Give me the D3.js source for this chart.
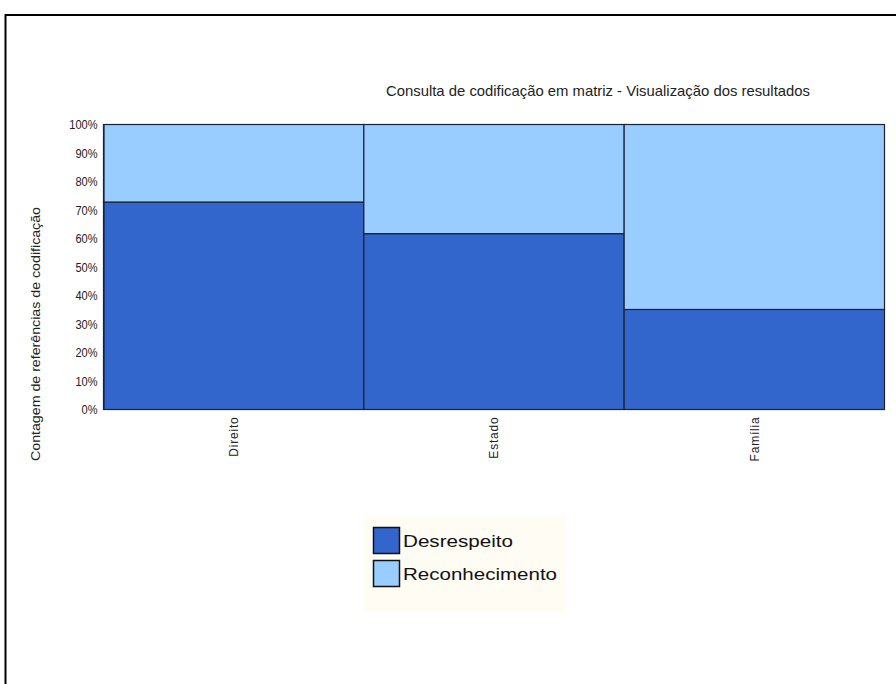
<!DOCTYPE html>
<html>
<head>
<meta charset="utf-8">
<script src="https://cdn.jsdelivr.net/npm/d3@7"></script>
<style>
  html, body { margin: 0; padding: 0; background: #fff; }
  svg { display: block; }
  text { font-family: "Liberation Sans", Arial, sans-serif; }
</style>
</head>
<body>
<svg id="chart" width="896" height="684"></svg>
<script>
const categories = ["Direito", "Estado", "Família"];
const seriesNames = ["Desrespeito", "Reconhecimento"];
const desrespeito = [72.8, 61.7, 35.1];
const reconhecimento = [27.2, 38.3, 64.9];
const yTicks = [0, 10, 20, 30, 40, 50, 60, 70, 80, 90, 100];
const colors = ["#3366cc", "#99ccff"];
const title = "Consulta de codificação em matriz - Visualização dos resultados";
const yTitle = "Contagem de referências de codificação";

const svg = d3.select("#chart");

// outer frame
svg.append("path").attr("d", `M5.5,684 V15 H896`).attr("fill", "none")
  .attr("stroke", "#000").attr("stroke-width", 2);

const m = { left: 103.5, right: 884.5, top: 124.5, bottom: 409.5 };
const x = d3.scaleBand().domain(categories).range([m.left, m.right]).padding(0);
const y = d3.scaleLinear().domain([0, 100]).range([m.bottom, m.top]);

// title
svg.append("text").attr("x", 598).attr("y", 96).attr("text-anchor", "middle")
  .attr("font-size", 15).attr("fill", "#222")
  .attr("textLength", 424).attr("lengthAdjust", "spacingAndGlyphs")
  .text(title);

const data = categories.map((c, i) => ({ cat: c, vals: [desrespeito[i], reconhecimento[i]] }));
const stack = d3.stack().keys([0, 1]).value((d, k) => d.vals[k]);
const layers = stack(data);

layers.forEach((layer, li) => {
  svg.append("g").selectAll("rect").data(layer).join("rect")
    .attr("x", d => x(d.data.cat))
    .attr("width", x.bandwidth())
    .attr("y", d => y(d[1]))
    .attr("height", d => y(d[0]) - y(d[1]))
    .attr("fill", colors[li])
    .attr("stroke", "#1a2233")
    .attr("stroke-width", 1.2);
});

// y axis
const yAxis = svg.append("g").attr("transform", `translate(${m.left},0)`)
  .call(d3.axisLeft(y).tickValues(yTicks).tickSize(0).tickPadding(6).tickFormat(d => d + "%"));
yAxis.select(".domain").attr("stroke", "#1a2233").attr("stroke-width", 1.2);
yAxis.selectAll("text").attr("font-size", 13).attr("fill", "#222")
  .attr("font-family", "'Liberation Sans', Arial, sans-serif")
  .attr("transform", "scale(0.85,1)").attr("x", -6 / 0.85);

// x axis labels
const xAxis = svg.append("g").attr("transform", `translate(0,${m.bottom})`)
  .call(d3.axisBottom(x).tickSize(0).tickPadding(0));
xAxis.select(".domain").remove();
xAxis.selectAll("text")
  .attr("font-size", 12).attr("fill", "#222")
  .attr("font-family", "'Liberation Sans', Arial, sans-serif")
  .attr("text-anchor", "end")
  .attr("transform", "rotate(-90)")
  .attr("x", -7).attr("y", 0).attr("dy", "0.35em")
  .attr("letter-spacing", 0.8);

// y title
svg.append("text").attr("transform", `translate(40,334) rotate(-90)`)
  .attr("text-anchor", "middle").attr("font-size", 12).attr("fill", "#222")
  .attr("textLength", 254).attr("lengthAdjust", "spacingAndGlyphs")
  .text(yTitle);

// legend
const lg = svg.append("g");
lg.append("rect").attr("x", 364).attr("y", 516).attr("width", 202).attr("height", 95)
  .attr("fill", "#fffcf4");
const legendLens = [110, 154];
seriesNames.forEach((s, i) => {
  const yy = 527 + i * 33;
  lg.append("rect").attr("x", 373.5).attr("y", yy + 0.5).attr("width", 26).attr("height", 26)
    .attr("fill", colors[i]).attr("stroke", "#111").attr("stroke-width", 1.5);
  lg.append("text").attr("x", 403).attr("y", yy + 20).attr("font-size", 17)
    .attr("fill", "#111").attr("textLength", legendLens[i]).attr("lengthAdjust", "spacingAndGlyphs")
    .text(s);
});
</script>
</body>
</html>
